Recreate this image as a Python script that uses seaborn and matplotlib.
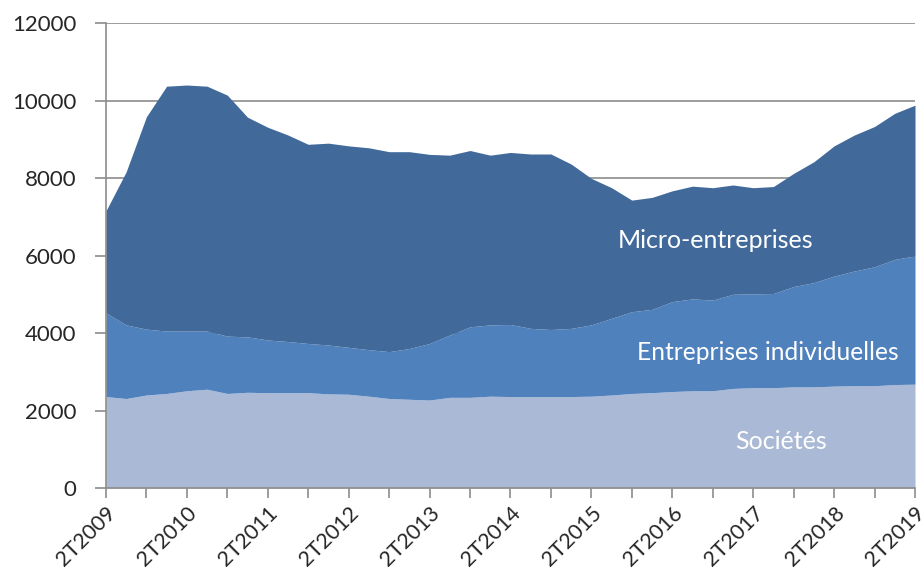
import numpy as np
import pandas as pd
import seaborn as sns
import matplotlib.pyplot as plt

# trimestres 2T2009 .. 2T2019
trimestres = [f"{q}T{y}" for y in range(2009, 2020) for q in (1, 2, 3, 4)][1:42]

societes = [2360, 2310, 2400, 2440, 2510, 2550, 2440, 2470, 2460, 2460,
            2460, 2430, 2420, 2370, 2310, 2290, 2270, 2340, 2340, 2370,
            2360, 2360, 2360, 2360, 2370, 2400, 2440, 2460, 2490, 2510,
            2510, 2570, 2590, 2590, 2610, 2610, 2630, 2640, 2640, 2670,
            2680]
entreprises_ind = [2160, 1900, 1700, 1610, 1540, 1500, 1480, 1430, 1360, 1320,
                   1270, 1260, 1210, 1200, 1210, 1310, 1460, 1610, 1820, 1840,
                   1860, 1760, 1730, 1760, 1840, 1980, 2110, 2150, 2320, 2370,
                   2340, 2430, 2420, 2430, 2590, 2690, 2840, 2960, 3070, 3230,
                   3310]
micro = [2630, 3950, 5480, 6320, 6350, 6320, 6220, 5670, 5490, 5330,
         5140, 5210, 5200, 5210, 5160, 5080, 4880, 4640, 4550, 4380,
         4440, 4500, 4530, 4240, 3780, 3370, 2880, 2890, 2860, 2910,
         2900, 2820, 2740, 2760, 2920, 3120, 3360, 3510, 3620, 3770,
         3890]

df = pd.DataFrame({"trimestre": trimestres, "Sociétés": societes,
                   "Entreprises individuelles": entreprises_ind,
                   "Micro-entreprises": micro})

couleurs = ["#AAB9D6", "#4F81BD", "#416A9B"]

sns.set_style("white")
plt.rcParams["font.family"] = ["Lato", "DejaVu Sans"]

fig, ax = plt.subplots(figsize=(9.21, 5.8), dpi=100)
plt.subplots_adjust(left=0.115, right=0.9935, bottom=0.1586, top=0.9603)

x = np.arange(len(df))
ax.stackplot(x, df["Sociétés"], df["Entreprises individuelles"],
             df["Micro-entreprises"], colors=couleurs, linewidth=0, zorder=2)

ax.set_xlim(0, len(df) - 1)
ax.set_ylim(0, 12000)
ax.set_yticks(range(0, 12001, 2000))
ax.yaxis.grid(True, color="#8C8C8C", linewidth=1.2, zorder=0)
ax.set_axisbelow(True)

ax.set_xticks(x[::4])
ax.set_xticklabels(df["trimestre"][::4], rotation=45, ha="right",
                   rotation_mode="anchor", fontsize=15.5)
ax.set_xticks(x[::2], minor=True)
ax.tick_params(axis="y", labelsize=16, length=8, width=1.2, color="#8C8C8C",
               left=True, pad=13)
ax.tick_params(axis="x", which="both", length=7, width=1.2, color="#8C8C8C",
               bottom=True, pad=4)

for side in ["top", "right"]:
    ax.spines[side].set_visible(False)
for side in ["left", "bottom"]:
    ax.spines[side].set_color("#8C8C8C")
    ax.spines[side].set_linewidth(1.2)

ax.text(30.15, 6400, "Micro-entreprises", color="white", fontsize=18,
        ha="center", va="center", zorder=3)
ax.text(32.7, 3500, "Entreprises individuelles", color="white", fontsize=17.7,
        ha="center", va="center", zorder=3)
ax.text(33.4, 1210, "Sociétés", color="white", fontsize=18,
        ha="center", va="center", zorder=3)

plt.savefig("out.png", dpi=100)
plt.close()
